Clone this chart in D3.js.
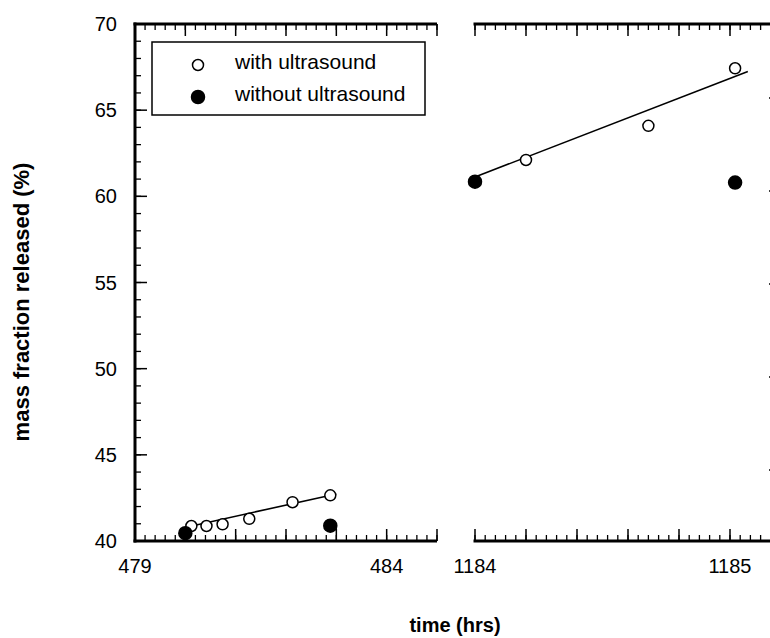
<!DOCTYPE html>
<html>
<head>
<meta charset="utf-8">
<script src="https://cdn.jsdelivr.net/npm/d3@7"></script>
<style>
  body { margin: 0; background: #fff; }
  svg { display: block; font-family: "Liberation Sans", Arial, sans-serif; }
</style>
</head>
<body>
<div id="chart"></div>
<script>
// data
var withTimeEarly = [480.12, 480.42, 480.74, 481.27, 482.13, 482.88];
var withMassEarly = [40.87, 40.87, 40.97, 41.29, 42.25, 42.65];
var withoutTimeEarly = [480.0, 482.88];
var withoutMassEarly = [40.45, 40.89];
var fitTimeEarly = [480.06, 483.0];
var fitMassEarly = [40.83, 42.73];

var withTimeLate = [1184.2, 1184.68, 1185.02];
var withMassLate = [62.11, 64.09, 67.43];
var withoutTimeLate = [1184.0, 1185.02];
var withoutMassLate = [60.85, 60.8];
var fitTimeLate = [1184.01, 1185.07];
var fitMassLate = [61.18, 67.24];

var yTickLabels = [40, 45, 50, 55, 60, 65, 70];
var xTickLabelsEarly = [479, 484];
var xTickLabelsLate = [1184, 1185];
var legendLabels = ["with ultrasound", "without ultrasound"];

var svgWidth = 770;
var svgHeight = 638;

var svg = d3.select("#chart")
  .append("svg")
  .attr("width", svgWidth)
  .attr("height", svgHeight);

var yScale = d3.scaleLinear().domain([40, 70]).range([541, 24]);
var xEarly = d3.scaleLinear().domain([479, 485]).range([135, 437]);
var xLate = d3.scaleLinear().domain([1184, 1185.2]).range([475, 781]);
// right edge axis (mostly cut off)
var yRight = d3.scaleLinear().domain([40, 70]).range([563, 5]);

function range(a, b, step) {
  var out = [];
  for (var v = a; v <= b + 1e-9; v += step) out.push(+v.toFixed(4));
  return out;
}

// x axes: bottom and top, ticks pointing inward
function xAxes(scale, majorStep, minorStep, labels) {
  var dom = scale.domain();
  var majors = range(dom[0], dom[1], majorStep);
  var minors = range(dom[0], dom[1], minorStep);

  [[541, 1], [24, -1]].forEach(function (p) {
    var y0 = p[0], dir = p[1];
    var g = svg.append("g");
    g.append("line")
      .attr("x1", scale.range()[0] - 1.5)
      .attr("x2", scale.range()[1])
      .attr("y1", y0).attr("y2", y0)
      .attr("stroke", "#000").attr("stroke-width", 3);
    g.selectAll(".minor").data(minors).enter().append("line")
      .attr("x1", d => scale(d)).attr("x2", d => scale(d))
      .attr("y1", y0).attr("y2", y0 - dir * 6)
      .attr("stroke", "#000").attr("stroke-width", 1.3);
    g.selectAll(".major").data(majors).enter().append("line")
      .attr("x1", d => scale(d)).attr("x2", d => scale(d))
      .attr("y1", y0).attr("y2", y0 - dir * 12)
      .attr("stroke", "#000").attr("stroke-width", 1.5);
  });

  svg.append("g").selectAll("text").data(labels).enter().append("text")
    .attr("x", d => scale(d))
    .attr("y", 573)
    .attr("text-anchor", "middle")
    .attr("font-size", "20px")
    .text(d => d);
}

xAxes(xEarly, 1, 0.2, xTickLabelsEarly);
xAxes(xLate, 0.2, 0.04, xTickLabelsLate);

// left y axis
var yAxisG = svg.append("g");
yAxisG.append("line")
  .attr("x1", 135).attr("x2", 135)
  .attr("y1", 22.5).attr("y2", 542.5)
  .attr("stroke", "#000").attr("stroke-width", 3);
yAxisG.selectAll(".minor").data(range(40, 70, 1)).enter().append("line")
  .attr("x1", 135).attr("x2", 141)
  .attr("y1", d => yScale(d)).attr("y2", d => yScale(d))
  .attr("stroke", "#000").attr("stroke-width", 1.3);
yAxisG.selectAll(".major").data(yTickLabels).enter().append("line")
  .attr("x1", 135).attr("x2", 147)
  .attr("y1", d => yScale(d)).attr("y2", d => yScale(d))
  .attr("stroke", "#000").attr("stroke-width", 1.5);
yAxisG.selectAll("text").data(yTickLabels).enter().append("text")
  .attr("x", 117)
  .attr("y", d => yScale(d))
  .attr("dy", "0.35em")
  .attr("text-anchor", "end")
  .attr("font-size", "20px")
  .text(d => d);

// right y axis, clipped by the page edge
svg.append("g").selectAll("line").data([45, 50, 55, 60, 65]).enter().append("line")
  .attr("x1", 769).attr("x2", 781)
  .attr("y1", d => yRight(d)).attr("y2", d => yRight(d))
  .attr("stroke", "#000").attr("stroke-width", 1.5);

// fit lines
var line = d3.line();
svg.append("path")
  .attr("d", line(fitTimeEarly.map((t, i) => [xEarly(t), yScale(fitMassEarly[i])])))
  .attr("stroke", "#000").attr("stroke-width", 1.6).attr("fill", "none");
svg.append("path")
  .attr("d", line(fitTimeLate.map((t, i) => [xLate(t), yScale(fitMassLate[i])])))
  .attr("stroke", "#000").attr("stroke-width", 1.6).attr("fill", "none");

// points
function drawPoints(xs, ys, scale, filled) {
  svg.append("g").selectAll("circle")
    .data(xs.map((t, i) => ({ t: t, m: ys[i] })))
    .enter()
    .append("circle")
    .attr("cx", d => scale(d.t))
    .attr("cy", d => yScale(d.m))
    .attr("r", filled ? 6.5 : 5.5)
    .attr("fill", filled ? "#000" : "#fff")
    .attr("stroke", "#000")
    .attr("stroke-width", 1.5);
}

drawPoints(withTimeEarly, withMassEarly, xEarly, false);
drawPoints(withoutTimeEarly, withoutMassEarly, xEarly, true);
drawPoints(withTimeLate, withMassLate, xLate, false);
drawPoints(withoutTimeLate, withoutMassLate, xLate, true);

// legend
var legend = svg.append("g");
legend.append("rect")
  .attr("x", 152).attr("y", 42)
  .attr("width", 273).attr("height", 73)
  .attr("fill", "#fff").attr("stroke", "#000").attr("stroke-width", 1.5);
legend.selectAll("circle").data(legendLabels).enter().append("circle")
  .attr("cx", 198)
  .attr("cy", (d, i) => 65 + i * 32)
  .attr("r", (d, i) => i ? 6.5 : 5.5)
  .attr("fill", (d, i) => i ? "#000" : "#fff")
  .attr("stroke", "#000").attr("stroke-width", 1.5);
legend.selectAll("text").data(legendLabels).enter().append("text")
  .attr("x", 235)
  .attr("y", (d, i) => 63 + i * 32)
  .attr("dy", "0.3em")
  .attr("font-size", "21px")
  .text(d => d);

// axis titles
svg.append("text")
  .attr("x", 455).attr("y", 632)
  .attr("text-anchor", "middle")
  .attr("font-size", "20px")
  .attr("font-weight", "bold")
  .text("time (hrs)");

svg.append("text")
  .attr("transform", "translate(29, 302) rotate(-90)")
  .attr("text-anchor", "middle")
  .attr("font-size", "22px")
  .attr("font-weight", "bold")
  .text("mass fraction released (%)");
</script>
</body>
</html>
